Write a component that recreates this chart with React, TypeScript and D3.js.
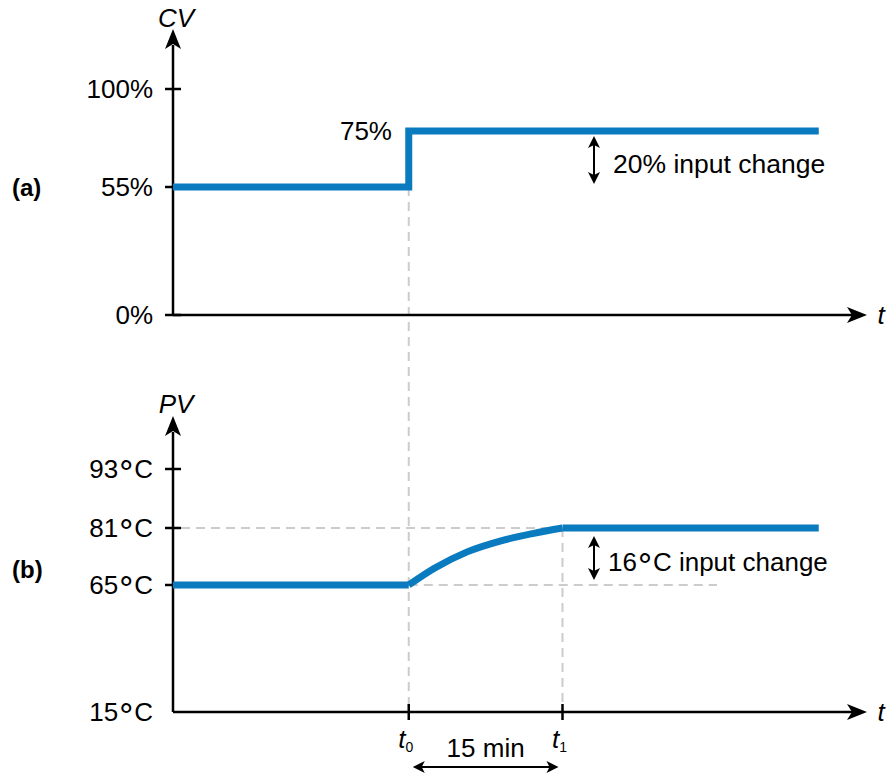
import React from "react";
import * as d3 from "d3";

const cvTicks = [0, 55, 100];
const cvTickLabels = ["0%", "55%", "100%"];
const pvTicks = [15, 65, 81, 93];
const pvTickNumbers = ["15", "65", "81", "93"];
const pvUnit = "C";

const cvTime = [-23, 0, 0, 40];
const cvValue = [55, 55, 75, 75];

const pvFlatBeforeTime = [-23, 0];
const pvFlatBeforeValue = [65, 65];
const pvCurveTime = [0, 2.5, 5.7, 9, 12.2, 15];
const pvCurveValue = [65, 69.7, 74.3, 77.4, 79.5, 81];
const pvFlatAfterTime = [15, 40];
const pvFlatAfterValue = [81, 81];

const T0 = 0;
const T1 = 15;

const W = 891;
const H = 773;
const FONT = "'Liberation Sans', Arial, sans-serif";
const BLUE = "#0a7bbf";
const DASH = "#cccccc";

function Deg() {
  return (
    <tspan fontFamily="'DejaVu Sans'" fontSize={32} dy={6}>
      °
    </tspan>
  );
}

export default function App() {
  const x = d3.scaleLinear().domain([-23, 45]).range([173, 870]);
  const yCV = d3.scaleLinear().domain([0, 55, 75, 100]).range([315, 187, 131, 89]);
  const yPV = d3.scaleLinear().domain([15, 65, 81, 93]).range([712, 585, 528, 469]);

  const cvLine = d3
    .line<number>()
    .x((_, i) => x(cvTime[i]))
    .y((d) => yCV(d))(cvValue) as string;

  const lin = (ts: number[], vs: number[]) =>
    d3
      .line<number>()
      .x((_, i) => x(ts[i]))
      .y((d) => yPV(d))(vs) as string;
  const curve = d3
    .line<number>()
    .x((_, i) => x(pvCurveTime[i]))
    .y((d) => yPV(d))
    .curve(d3.curveMonotoneX)(pvCurveValue) as string;

  const xL = x(-23);
  const xEnd = x(45);
  const x0 = x(T0);
  const x1 = x(T1);

  const arrowRight = (tipX: number, y: number) =>
    `M${tipX},${y} L${tipX - 20},${y - 8} L${tipX - 15},${y} L${tipX - 20},${y + 8} Z`;
  const arrowUp = (xx: number, tipY: number) =>
    `M${xx},${tipY} L${xx - 8},${tipY + 20} L${xx},${tipY + 15} L${xx + 8},${tipY + 20} Z`;
  const smallUp = (xx: number, tipY: number) =>
    `M${xx},${tipY} L${xx - 6},${tipY + 12} L${xx},${tipY + 9} L${xx + 6},${tipY + 12} Z`;
  const smallDown = (xx: number, tipY: number) =>
    `M${xx},${tipY} L${xx - 6},${tipY - 12} L${xx},${tipY - 9} L${xx + 6},${tipY - 12} Z`;
  const smallLeft = (tipX: number, yy: number) =>
    `M${tipX},${yy} L${tipX + 12},${yy - 6} L${tipX + 9},${yy} L${tipX + 12},${yy + 6} Z`;
  const smallRight = (tipX: number, yy: number) =>
    `M${tipX},${yy} L${tipX - 12},${yy - 6} L${tipX - 9},${yy} L${tipX - 12},${yy + 6} Z`;

  const arrowX = 594;

  return (
    <svg
      width={W}
      height={H}
      style={{ position: "absolute", left: 0, top: 0, background: "#fff" }}
      fontFamily={FONT}
    >
      {/* dashed guides */}
      <g stroke={DASH} strokeWidth={2} strokeDasharray="9,6" fill="none">
        <line x1={x0} x2={x0} y1={yCV(55)} y2={yPV(15)} />
        <line x1={x1} x2={x1} y1={yPV(81)} y2={yPV(15)} />
        <line x1={xL + 8} x2={x1} y1={yPV(81)} y2={yPV(81)} />
        <line x1={x0} x2={717} y1={yPV(65)} y2={yPV(65)} />
      </g>

      {/* Top panel axes */}
      <g stroke="#000" strokeWidth={2.5} fill="none">
        <line x1={xL} x2={xL} y1={yCV(0)} y2={45} />
        <line x1={xL} x2={xEnd - 10} y1={yCV(0)} y2={yCV(0)} />
        {cvTicks.map((t) => (
          <line key={t} x1={xL - 8} x2={xL + 8} y1={yCV(t)} y2={yCV(t)} />
        ))}
      </g>
      <path d={arrowUp(xL, 29)} fill="#000" />
      <path d={arrowRight(xEnd - 3, yCV(0))} fill="#000" />
      {cvTicks.map((t, i) => (
        <text key={t} x={153} y={yCV(t)} dy="0.36em" textAnchor="end" fontSize={26}>
          {cvTickLabels[i]}
        </text>
      ))}
      <text x={176} y={27} textAnchor="middle" fontSize={26} fontStyle="italic">CV</text>
      <text x={881} y={yCV(0)} dy="0.36em" textAnchor="middle" fontSize={26} fontStyle="italic">t</text>
      <text x={12} y={yCV(55)} dy="0.36em" fontSize={24} fontWeight="bold">(a)</text>

      {/* Top panel data */}
      <path d={cvLine} stroke={BLUE} strokeWidth={7} fill="none" strokeLinejoin="miter" />
      <text x={392} y={yCV(75)} dy="0.36em" textAnchor="end" fontSize={26}>75%</text>
      <line x1={arrowX} x2={arrowX} y1={yCV(75) + 12} y2={yCV(55) - 10} stroke="#000" strokeWidth={2} />
      <path d={smallUp(arrowX, yCV(75) + 5)} fill="#000" />
      <path d={smallDown(arrowX, yCV(55) - 3)} fill="#000" />
      <text x={613} y={163} dy="0.36em" fontSize={26.5}>20% input change</text>

      {/* Bottom panel axes */}
      <g stroke="#000" strokeWidth={2.5} fill="none">
        <line x1={xL} x2={xL} y1={yPV(15)} y2={432} />
        <line x1={xL} x2={xEnd - 10} y1={yPV(15)} y2={yPV(15)} />
        {pvTicks.slice(1).map((t) => (
          <line key={t} x1={xL - 8} x2={xL + 8} y1={yPV(t)} y2={yPV(t)} />
        ))}
        {[T0, T1].map((t) => (
          <line key={t} x1={x(t)} x2={x(t)} y1={yPV(15) - 8} y2={yPV(15) + 8} />
        ))}
      </g>
      <path d={arrowUp(xL, 416)} fill="#000" />
      <path d={arrowRight(xEnd - 3, yPV(15))} fill="#000" />
      {pvTicks.map((t, i) => (
        <text key={t} x={153} y={yPV(t) + 9} textAnchor="end" fontSize={26}>
          {pvTickNumbers[i]}
          <Deg />
          <tspan dy={-6}>{pvUnit}</tspan>
        </text>
      ))}
      <text x={176} y={413} textAnchor="middle" fontSize={26} fontStyle="italic">PV</text>
      <text x={881} y={yPV(15)} dy="0.36em" textAnchor="middle" fontSize={26} fontStyle="italic">t</text>
      <text x={12} y={569} dy="0.36em" fontSize={24} fontWeight="bold">(b)</text>

      {/* Bottom panel data */}
      <g stroke={BLUE} strokeWidth={7} fill="none" strokeLinejoin="round">
        <path d={lin(pvFlatBeforeTime, pvFlatBeforeValue)} />
        <path d={curve} />
        <path d={lin(pvFlatAfterTime, pvFlatAfterValue)} />
      </g>
      <line x1={arrowX} x2={arrowX} y1={yPV(81) + 15} y2={yPV(65) - 12} stroke="#000" strokeWidth={2} />
      <path d={smallUp(arrowX, yPV(81) + 8)} fill="#000" />
      <path d={smallDown(arrowX, yPV(65) - 5)} fill="#000" />
      <text x={608} y={571} fontSize={26}>
        16<Deg />
        <tspan dy={-6}>C input change</tspan>
      </text>

      {/* time labels */}
      <text x={x0 - 3} y={748} textAnchor="middle" fontSize={26} fontStyle="italic">
        t<tspan fontSize={14} fontStyle="normal" dx={0} dy={4}>0</tspan>
      </text>
      <text x={x1 - 3} y={748} textAnchor="middle" fontSize={26} fontStyle="italic">
        t<tspan fontSize={14} fontStyle="normal" dx={0} dy={4}>1</tspan>
      </text>
      <text x={(x0 + x1) / 2} y={757} textAnchor="middle" fontSize={26}>15 min</text>
      <line x1={x0 + 10} x2={x1 - 10} y1={767} y2={767} stroke="#000" strokeWidth={2} />
      <path d={smallLeft(x0 + 4, 767)} fill="#000" />
      <path d={smallRight(x1 - 4, 767)} fill="#000" />
    </svg>
  );
}
